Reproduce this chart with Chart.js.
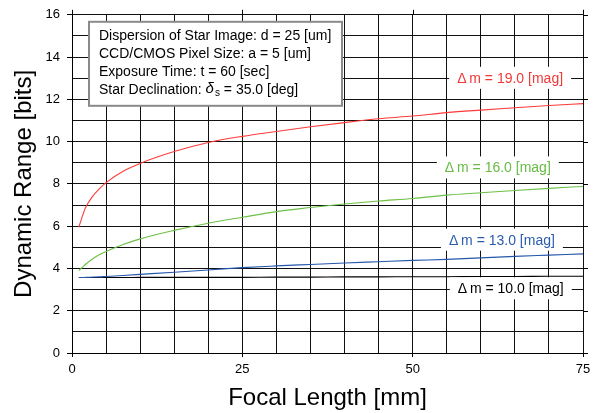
<!DOCTYPE html>
<html>
<head>
<meta charset="utf-8">
<script src="https://cdn.jsdelivr.net/npm/chart.js@4.4.1/dist/chart.umd.min.js"></script>
<style>
  html, body { margin: 0; padding: 0; background: #fff; }
  #wrap { width: 605px; height: 413px; }
</style>
</head>
<body>
<div id="wrap"><canvas id="c" width="605" height="413"></canvas></div>
<script>
// ---------- data ----------
const focalLengths = [1, 1.5, 2, 3, 4, 5, 7.5, 10, 15, 20, 25, 30, 35, 40, 45, 50, 55, 60, 65, 70, 75];
const dm19 = [5.95, 6.45, 6.88, 7.4, 7.76, 8.06, 8.6, 8.97, 9.53, 9.96, 10.25, 10.48, 10.7, 10.9, 11.08, 11.21, 11.37, 11.49, 11.6, 11.71, 11.8];
const dm16 = [3.9, 4.05, 4.2, 4.45, 4.65, 4.8, 5.13, 5.4, 5.8, 6.14, 6.42, 6.69, 6.88, 7.05, 7.19, 7.31, 7.47, 7.58, 7.69, 7.79, 7.88];
const dm13 = [3.57, 3.57, 3.58, 3.59, 3.6, 3.62, 3.67, 3.72, 3.82, 3.93, 4.04, 4.12, 4.19, 4.26, 4.32, 4.38, 4.43, 4.5, 4.57, 4.63, 4.69];
const dm10 = [3.57, 3.57, 3.57, 3.57, 3.57, 3.57, 3.57, 3.58, 3.58, 3.58, 3.58, 3.59, 3.59, 3.6, 3.6, 3.61, 3.61, 3.62, 3.62, 3.63, 3.63];
const seriesLabels = ['Δ\u2009m = 19.0 [mag]', 'Δ\u2009m = 16.0 [mag]', 'Δ\u2009m = 13.0 [mag]', 'Δ\u2009m = 10.0 [mag]'];
const xTickLabels = [0, 25, 50, 75];
const yTickLabels = [0, 2, 4, 6, 8, 10, 12, 14, 16];
const infoLines = ['Dispersion of Star Image: d = 25 [um]', 'CCD/CMOS Pixel Size: a = 5 [um]', 'Exposure Time: t = 60 [sec]'];
const declinationLabel = ['Star Declination: ', 'δ', 's', ' = 35.0 [deg]'];

// ---------- styles / label placement ----------
const lineColors = ['#ff3a3a', '#6cc046', '#2456ac', '#000000'];
const textColors = ['#f03838', '#68bb44', '#2a5cb0', '#000000'];
const labelAnchors = [[64.3, 13.02], [62.5, 8.78], [63.1, 5.36], [64.4, 3.06]]; // data coords of label centres
const FONT = "'Liberation Sans', Arial, Helvetica, sans-serif";
Chart.defaults.font.family = FONT;
Chart.defaults.color = '#000';

const toPts = arr => focalLengths.map((f, i) => ({ x: f, y: arr[i] }));
const seriesData = [dm19, dm16, dm13, dm10];

const overlay = {
  id: 'overlay',
  afterDraw(chart) {
    const ctx = chart.ctx;
    const xs = chart.scales.x, ys = chart.scales.y;
    const ca = chart.chartArea;
    ctx.save();
    // mirrored major ticks on top and right
    ctx.strokeStyle = '#000';
    ctx.lineWidth = 1;
    ctx.beginPath();
    xTickLabels.forEach(v => {
      const px = Math.round(xs.getPixelForValue(v)) + 0.5;
      ctx.moveTo(px, ca.top); ctx.lineTo(px, ca.top - 5);
    });
    yTickLabels.forEach(v => {
      const py = Math.round(ys.getPixelForValue(v)) + 0.5;
      ctx.moveTo(ca.right, py); ctx.lineTo(ca.right + 5, py);
    });
    ctx.stroke();

    // curve labels
    ctx.font = '14px ' + FONT;
    ctx.textBaseline = 'middle';
    ctx.textAlign = 'center';
    seriesLabels.forEach((t, i) => {
      const cx = xs.getPixelForValue(labelAnchors[i][0]);
      const cy = ys.getPixelForValue(labelAnchors[i][1]);
      const w = ctx.measureText(t).width;
      ctx.fillStyle = '#fff';
      ctx.fillRect(cx - w / 2 - 8, cy - 11, w + 16, 22);
      ctx.fillStyle = textColors[i];
      ctx.fillText(t, cx, cy + 1);
    });

    // info box
    const bx = ca.left + 17, by = ca.top + 7, bw = 253, bh = 84;
    ctx.fillStyle = '#fff';
    ctx.fillRect(bx, by, bw, bh);
    ctx.strokeStyle = '#8a8a8a';
    ctx.lineWidth = 2;
    ctx.strokeRect(bx, by, bw, bh);
    ctx.fillStyle = '#000';
    ctx.textAlign = 'left';
    ctx.font = '14px ' + FONT;
    const tx = bx + 10;
    const lineY = [by + 14, by + 32, by + 50, by + 68];
    infoLines.forEach((t, i) => ctx.fillText(t, tx, lineY[i]));
    let x = tx;
    const y4 = lineY[3];
    ctx.fillText(declinationLabel[0], x, y4); x += ctx.measureText(declinationLabel[0]).width;
    ctx.font = 'italic 15px ' + FONT;
    ctx.fillText(declinationLabel[1], x, y4 - 1); x += ctx.measureText(declinationLabel[1]).width + 1;
    ctx.font = '10px ' + FONT;
    ctx.fillText(declinationLabel[2], x, y4 + 3); x += ctx.measureText(declinationLabel[2]).width;
    ctx.font = '14px ' + FONT;
    ctx.fillText(declinationLabel[3], x, y4);
    ctx.restore();
  }
};

new Chart(document.getElementById('c'), {
  type: 'line',
  data: {
    datasets: seriesData.map((arr, i) => ({
      label: seriesLabels[i],
      data: toPts(arr),
      borderColor: lineColors[i],
      borderWidth: 1.1,
      pointRadius: 0,
      fill: false,
      cubicInterpolationMode: 'monotone'
    }))
  },
  options: {
    responsive: false,
    animation: false,
    layout: { padding: { left: 0, right: 22, top: 13, bottom: 0 } },
    plugins: { legend: { display: false }, tooltip: { enabled: false } },
    scales: {
      x: {
        type: 'linear', min: 0, max: 75,
        ticks: {
          stepSize: 5, autoSkip: false, maxRotation: 0, padding: 5,
          font: { size: 13 }, color: '#000',
          callback: v => (xTickLabels.includes(v) ? String(v) : '')
        },
        grid: {
          color: '#111', lineWidth: 1, tickLength: 4,
          tickColor: c => (c.tick && xTickLabels.includes(c.tick.value) ? '#000' : 'rgba(0,0,0,0)')
        },
        border: { color: '#000', width: 1 },
        title: { display: true, text: 'Focal Length [mm]', font: { size: 24 }, color: '#000', padding: { top: 0, bottom: 0 } },
        afterFit: s => { s.height = 60; }
      },
      y: {
        type: 'linear', min: 0, max: 16,
        ticks: {
          stepSize: 1, autoSkip: false, padding: 7,
          font: { size: 13 }, color: '#000',
          callback: v => (yTickLabels.includes(v) ? String(v) : '')
        },
        grid: {
          color: '#111', lineWidth: 1, tickLength: 5,
          tickColor: c => (c.tick && yTickLabels.includes(c.tick.value) ? '#000' : 'rgba(0,0,0,0)')
        },
        border: { color: '#000', width: 1 },
        title: { display: true, text: 'Dynamic Range [bits]', font: { size: 24 }, color: '#000', padding: { top: 10, bottom: 0 } },
        afterFit: s => { s.width = 72; }
      }
    }
  },
  plugins: [overlay]
});
</script>
</body>
</html>
